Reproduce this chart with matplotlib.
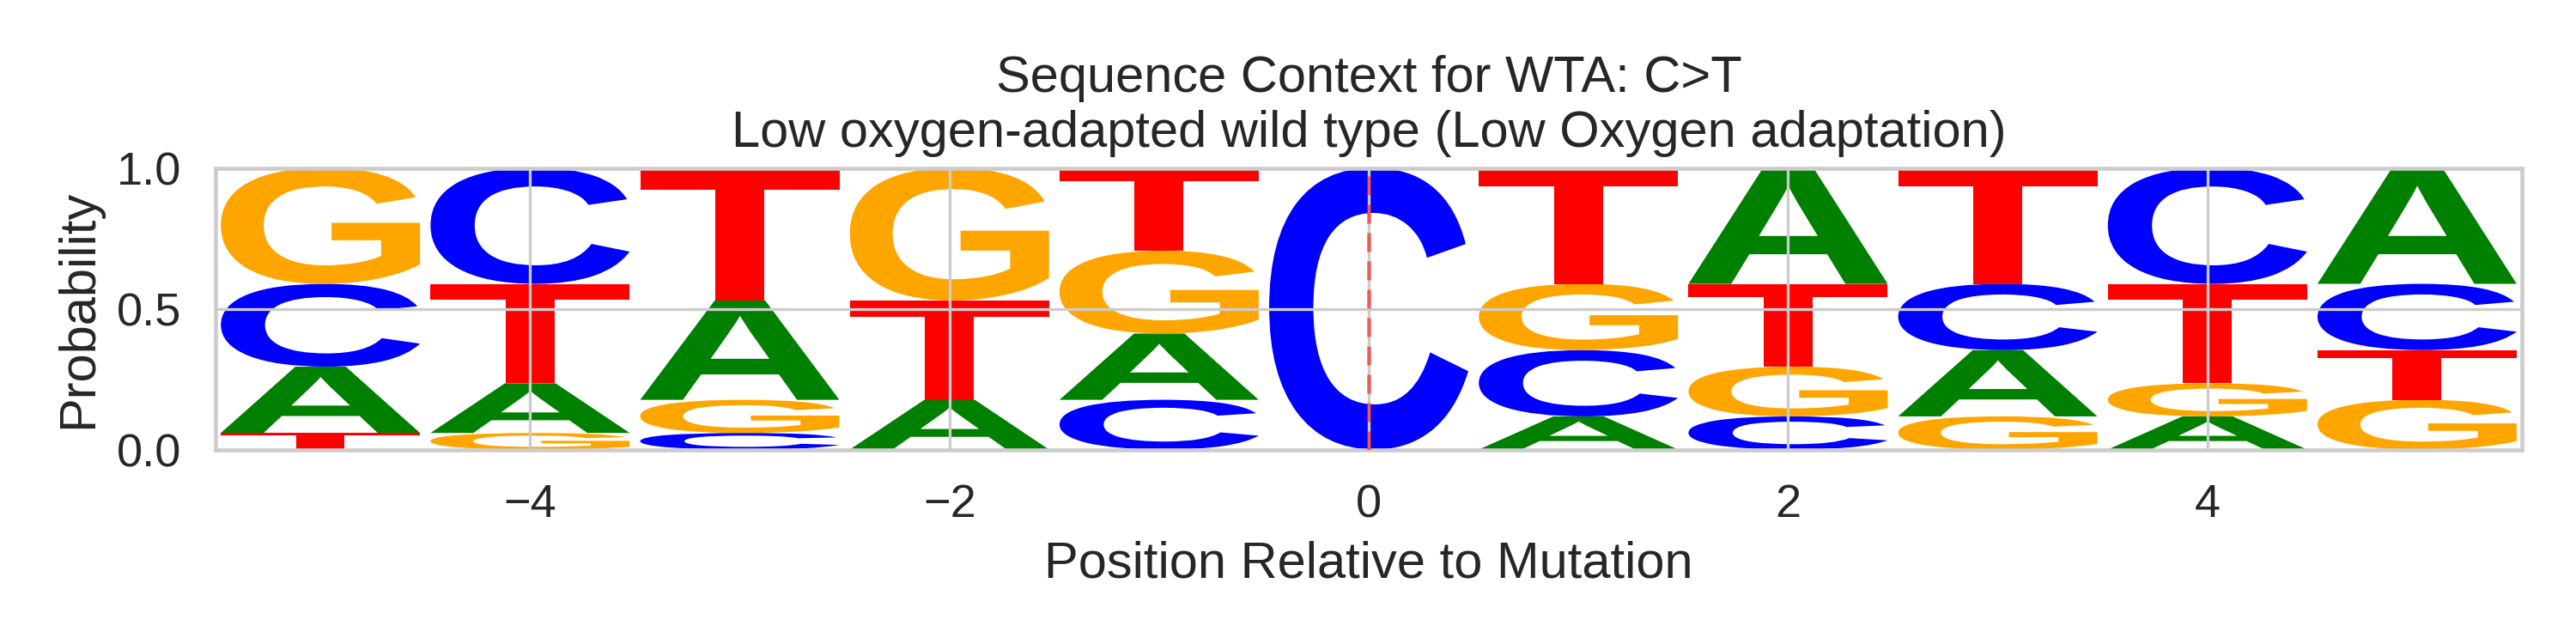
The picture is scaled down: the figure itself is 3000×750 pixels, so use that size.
import matplotlib
matplotlib.use("Agg")
import matplotlib.pyplot as plt
import seaborn as sns
from matplotlib.textpath import TextPath
from matplotlib.patches import PathPatch
from matplotlib.font_manager import FontProperties
from matplotlib.transforms import Affine2D

# ---- data (probabilities per position) ----
positions = [-5, -4, -3, -2, -1, 0, 1, 2, 3, 4, 5]
bases = ["A", "C", "G", "T"]
prob_A = [0.2353, 0.1765, 0.3529, 0.1765, 0.2353, 0.0, 0.1176, 0.4118, 0.2353, 0.1176, 0.4118]
prob_C = [0.2941, 0.4118, 0.0588, 0.0000, 0.1765, 1.0, 0.2353, 0.1176, 0.2353, 0.4118, 0.2353]
prob_G = [0.4118, 0.0588, 0.1176, 0.4706, 0.2941, 0.0, 0.2353, 0.1765, 0.1176, 0.1176, 0.1765]
prob_T = [0.0588, 0.3529, 0.4706, 0.3529, 0.2941, 0.0, 0.4118, 0.2941, 0.4118, 0.3529, 0.1765]
probs = {"A": prob_A, "C": prob_C, "G": prob_G, "T": prob_T}
colors = {"A": "#008000", "C": "#0000ff", "G": "#ffa500", "T": "#ff0000"}

title = "Sequence Context for WTA: C>T\nLow oxygen-adapted wild type (Low Oxygen adaptation)"
xlabel = "Position Relative to Mutation"
ylabel = "Probability"

sns.set_theme(style="whitegrid")
plt.rcParams["font.family"] = ["Liberation Sans", "DejaVu Sans"]
plt.rcParams["grid.linewidth"] = 0.8
plt.rcParams["axes.linewidth"] = 1.1

fig = plt.figure(figsize=(10, 2.5), dpi=300)
ax = fig.add_axes([0.0837, 0.302, 0.979 - 0.0837, 0.7393 - 0.302])

glyph_font = FontProperties(family="Liberation Sans", weight="bold")
width = 0.95


def draw_glyph(ax, ch, x, floor, height, color):
    tp = TextPath((0, 0), ch, size=1, prop=glyph_font)
    ext = tp.get_extents()
    tr = (Affine2D()
          .translate(-ext.x0, -ext.y0)
          .scale(width / ext.width, height / ext.height)
          .translate(x - width / 2, floor))
    path = tr.transform_path(tp)
    patch = PathPatch(path, facecolor=color, edgecolor="none", linewidth=0, zorder=0)
    ax.add_patch(patch)


for i, pos in enumerate(positions):
    vals = [(probs[b][i], b) for b in bases]
    vals = sorted(vals, key=lambda t: t[0])  # stable: ties keep A,C,G,T order
    floor = 0.0
    for v, b in vals:
        if v <= 0:
            continue
        draw_glyph(ax, b, pos, floor, v, colors[b])
        floor += v

ax.axvline(0, color="red", linestyle=(0, (4.8, 2.4)), linewidth=1.1, alpha=0.55, zorder=3)

ax.set_xlim(positions[0] - 0.5, positions[-1] + 0.5)
ax.set_ylim(0, 1)
ax.set_xticks([-4, -2, 0, 2, 4])
ax.set_yticks([0.0, 0.5, 1.0])
ax.tick_params(labelsize=13)
ax.set_xlabel(xlabel, fontsize=14.3)
ax.set_ylabel(ylabel, fontsize=14.3)
ax.set_title(title, fontsize=14.3)

fig.savefig("out.png", dpi=300)
